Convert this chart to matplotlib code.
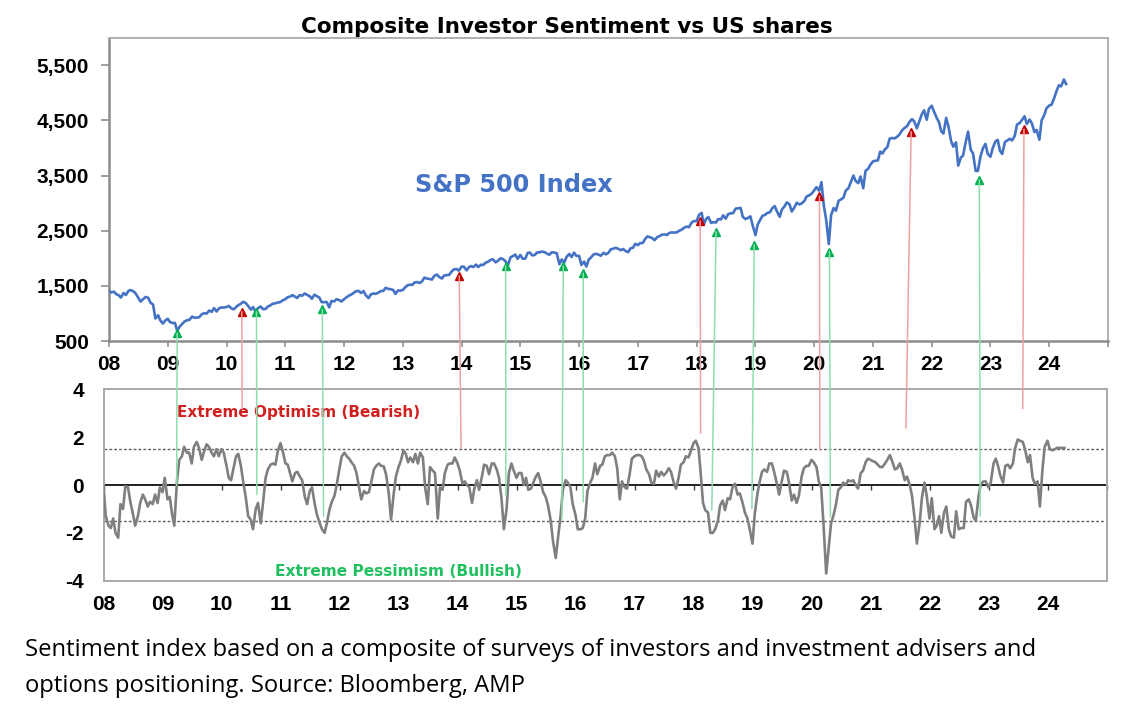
import numpy as np
import pandas as pd
import matplotlib
matplotlib.use("Agg")
import matplotlib.pyplot as plt
from matplotlib.patches import ConnectionPatch

# ---------------- data (semi-monthly: 1st and 15th of each month) ----------------
sp500_by_year = {
    2008: [1411, 1380, 1395, 1349, 1331, 1288, 1370, 1334, 1409, 1424, 1400, 1360,
           1284, 1215, 1260, 1298, 1283, 1193, 1161, 908, 966, 873, 816, 869],
    2009: [903, 843, 826, 827, 680, 757, 811, 852, 877, 882, 942, 923,
           923, 932, 987, 1004, 998, 1052, 1029, 1096, 1036, 1093, 1108, 1107],
    2010: [1115, 1136, 1089, 1075, 1115, 1150, 1178, 1211, 1187, 1136, 1070, 1115,
           1027, 1096, 1125, 1079, 1080, 1125, 1146, 1176, 1184, 1197, 1206, 1236],
    2011: [1258, 1293, 1307, 1332, 1306, 1281, 1333, 1320, 1361, 1338, 1314, 1266,
           1340, 1316, 1286, 1204, 1204, 1209, 1110, 1225, 1218, 1257, 1244, 1216],
    2012: [1258, 1289, 1324, 1343, 1374, 1402, 1408, 1370, 1405, 1330, 1278, 1342,
           1362, 1356, 1375, 1405, 1407, 1465, 1444, 1440, 1427, 1353, 1416, 1413],
    2013: [1426, 1472, 1513, 1520, 1518, 1561, 1569, 1552, 1582, 1650, 1631, 1626,
           1614, 1680, 1706, 1661, 1633, 1688, 1695, 1698, 1762, 1798, 1806, 1775],
    2014: [1848, 1848, 1782, 1838, 1859, 1841, 1885, 1842, 1883, 1878, 1924, 1937,
           1973, 1981, 1925, 1955, 2003, 1985, 1946, 1862, 2018, 2039, 2067, 1990],
    2015: [2059, 1992, 1995, 2096, 2105, 2053, 2060, 2106, 2108, 2122, 2111, 2085,
           2064, 2108, 2104, 2092, 1890, 1978, 1923, 2023, 2079, 2023, 2102, 2043],
    2016: [2044, 1880, 1940, 1850, 1978, 2015, 2072, 2081, 2065, 2047, 2099, 2071,
           2099, 2161, 2174, 2190, 2171, 2147, 2168, 2133, 2111, 2180, 2191, 2262],
    2017: [2239, 2275, 2279, 2350, 2395, 2385, 2363, 2329, 2384, 2402, 2430, 2432,
           2423, 2459, 2470, 2465, 2472, 2500, 2519, 2553, 2575, 2565, 2648, 2675],
    2018: [2674, 2786, 2824, 2620, 2714, 2748, 2641, 2656, 2648, 2711, 2705, 2780,
           2718, 2798, 2816, 2819, 2902, 2905, 2914, 2750, 2712, 2730, 2760, 2600],
    2019: [2420, 2610, 2704, 2775, 2784, 2822, 2834, 2907, 2946, 2850, 2752, 2886,
           2942, 3014, 2980, 2848, 2926, 3007, 2977, 2995, 3038, 3120, 3141, 3168],
    2020: [3231, 3289, 3226, 3380, 2954, 2710, 2260, 2783, 2912, 2863, 3044, 3066,
           3100, 3226, 3271, 3373, 3500, 3401, 3363, 3483, 3270, 3585, 3622, 3694],
    2021: [3756, 3768, 3774, 3934, 3901, 3969, 4020, 4170, 4181, 4173, 4204, 4246,
           4320, 4360, 4395, 4468, 4524, 4480, 4357, 4471, 4613, 4682, 4513, 4709],
    2022: [4766, 4662, 4546, 4471, 4306, 4262, 4545, 4392, 4132, 4023, 4101, 3680,
           3825, 3863, 4118, 4297, 3966, 3901, 3585, 3583, 3856, 3991, 4076, 3895],
    2023: [3840, 3999, 4119, 4147, 3951, 3892, 4109, 4137, 4167, 4136, 4221, 4426,
           4450, 4505, 4576, 4437, 4515, 4450, 4288, 4328, 4150, 4502, 4594, 4719],
    2024: [4770, 4784, 4906, 5029, 5137, 5117, 5243, 5160],
}

sentiment_by_year = {
    2008: [-0.05, -1.3, -1.7, -1.8, -1.4, -2.0, -2.2, -0.8, -1.0, -0.05, -0.1, -0.7,
           -1.2, -1.7, -1.3, -0.75, -0.4, -0.6, -0.9, -0.7, -0.8, -0.4, -0.75, -0.1],
    2009: [-0.3, 0.3, -0.6, -0.5, -1.2, -1.7, 0.2, 1.05, 1.2, 1.6, 1.35, 1.35,
           0.9, 1.6, 1.8, 1.55, 1.05, 1.4, 1.7, 1.6, 1.35, 1.2, 1.5, 1.2],
    2010: [1.5, 1.35, 0.8, 0.3, 0.2, 0.65, 1.2, 1.3, 0.8, 0.15, -0.55, -1.3,
           -1.45, -1.85, -1.0, -0.75, -1.6, -0.75, 0.3, 0.65, 0.85, 0.9, 0.85, 1.4],
    2011: [1.75, 1.4, 0.9, 0.85, 0.5, 0.15, 0.5, 0.55, 0.35, 0.2, -0.5, -0.8,
           -0.25, -0.1, -0.8, -1.25, -1.6, -1.85, -2.0, -1.6, -1.0, -0.7, -0.45, 0.0],
    2012: [0.7, 1.2, 1.35, 1.2, 1.1, 0.95, 0.8, 0.5, -0.1, -0.6, -0.25, -0.35,
           -0.3, 0.1, 0.65, 0.8, 0.9, 0.8, 0.78, 0.45, -0.35, -1.45, -0.4, 0.35],
    2013: [0.75, 1.0, 1.45, 1.3, 0.95, 1.15, 0.95, 1.3, 0.9, 1.35, 1.15, -0.1,
           -0.8, 0.75, 0.6, 0.5, -1.4, -0.1, -0.2, 0.5, 0.85, 0.9, 0.9, 1.15],
    2014: [0.9, 0.6, 0.05, 0.15, 0.0, -0.1, -0.75, -0.15, 0.2, -0.2, 0.35, 0.85,
           0.8, 0.45, 0.9, 0.9, 0.65, 0.3, -0.6, -1.85, -1.0, 0.5, 0.9, 0.6],
    2015: [0.3, 0.5, 0.5, 0.0, 0.3, -0.2, -0.15, 0.1, 0.35, 0.5, 0.1, -0.3,
           -0.5, -0.85, -1.5, -2.35, -3.05, -2.2, -1.3, -0.2, 0.2, 0.1, -0.1, -0.8],
    2016: [-1.25, -1.85, -1.85, -1.8, -1.4, -0.25, 0.1, 0.3, 0.9, 0.45, 0.8, 0.85,
           1.2, 1.25, 1.25, 1.35, 1.2, 0.7, -0.6, 0.15, -0.1, -0.15, 0.45, 1.1],
    2017: [1.2, 1.25, 1.25, 1.2, 1.0, 0.65, 0.45, 0.1, 0.05, 0.6, 0.35, 0.55,
           0.4, 0.5, 0.7, 0.55, 0.1, -0.15, 0.3, 0.85, 0.95, 1.2, 1.15, 1.4],
    2018: [1.75, 1.85, 1.55, 0.45, -0.75, -1.05, -1.15, -2.0, -2.0, -1.85, -1.5, -0.85,
           -0.65, -1.05, -0.55, -0.6, -0.05, 0.05, -0.4, -0.35, -0.75, -1.15, -1.4, -1.85],
    2019: [-2.45, -1.2, -0.35, 0.15, 0.55, 0.65, 0.55, 0.9, 0.9, 0.55, 0.05, -0.4,
           0.15, 0.6, 0.55, 0.1, -0.65, -0.4, -0.75, -0.45, 0.35, 0.7, 0.8, 0.8],
    2020: [1.05, 0.95, 0.75, 0.15, -0.1, -1.6, -3.7, -2.7, -1.6, -1.3, -0.8, -0.2,
           -0.1, 0.1, 0.0, 0.2, 0.15, 0.2, 0.0, -0.15, 0.5, 0.6, 0.95, 1.1],
    2021: [1.05, 1.0, 0.95, 0.85, 0.75, 0.75, 0.9, 1.05, 1.25, 1.0, 0.65, 0.7,
           0.9, 0.65, 0.2, 0.35, 0.0, -0.45, -1.4, -2.45, -1.6, -0.55, 0.1, -0.45],
    2022: [-1.4, -0.55, -1.85, -1.7, -1.3, -2.0, -1.15, -0.9, -1.85, -2.15, -2.2, -1.1,
           -1.85, -1.8, -1.8, -0.7, -0.6, -0.85, -1.35, -1.5, -0.45, 0.05, 0.15, 0.15],
    2023: [-0.1, 0.1, 0.9, 1.1, 0.8, 0.4, 0.1, 0.8, 0.85, 0.7, 0.9, 1.55,
           1.9, 1.85, 1.8, 1.5, 0.95, 1.25, 0.3, 0.05, 0.15, -0.9, 0.65, 1.6],
    2024: [1.85, 1.5, 1.45, 1.5, 1.55, 1.55, 1.55, 1.55],
}

# extreme-sentiment signals: (year in sentiment panel, sentiment level, year in S&P panel, S&P level)
optimism_signals = [
    (2010.35, 3.18, 2010.26, 1031),
    (2014.06, 1.53, 2013.96, 1678),
    (2018.12, 2.16, 2018.06, 2676),
    (2020.14, 1.46, 2020.09, 3125),
    (2021.60, 2.38, 2021.65, 4296),
    (2023.58, 3.19, 2023.57, 4337),
]
pessimism_signals = [
    (2009.24, 0.00, 2009.16, 639),
    (2010.60, -0.40, 2010.51, 1031),
    (2011.73, -1.30, 2011.63, 1074),
    (2014.82, -0.46, 2014.75, 1859),
    (2015.77, -1.40, 2015.73, 1859),
    (2016.13, -0.71, 2016.07, 1729),
    (2018.31, -1.06, 2018.33, 2485),
    (2018.99, -0.99, 2018.98, 2244),
    (2020.32, -1.34, 2020.26, 2120),
    (2022.86, -1.30, 2022.81, 3424),
]

extreme_levels = [1.5, -1.5]
year_ticks = list(range(2008, 2026))
year_labels = [f"{y % 100:02d}" for y in range(2008, 2025)] + [""]
sp_ticks = [500, 1500, 2500, 3500, 4500, 5500]

# ---------------- build series ----------------
sp500 = np.concatenate([sp500_by_year[y] for y in sorted(sp500_by_year)])
sentiment = np.concatenate([sentiment_by_year[y] for y in sorted(sentiment_by_year)])

def decimal_years(n):
    d = pd.date_range("2008-01-01", periods=n, freq="SMS")
    return d.year + (d.dayofyear - 1) / 365.25

t_sp = decimal_years(len(sp500))
t_se = decimal_years(len(sentiment))

# ---------------- figure ----------------
W, H = 1134, 719
fig = plt.figure(figsize=(W / 100, H / 100), dpi=100)
plt.rcParams["font.family"] = ["Liberation Sans", "DejaVu Sans"]
WIDE = ["DejaVu Sans"]
TICK_FS = 15

ax1 = fig.add_axes([109 / W, 1 - 341 / H, 999 / W, (341 - 37.7) / H])
ax2 = fig.add_axes([103.5 / W, 1 - 580.7 / H, 1003 / W, (580.7 - 389.3) / H])

blue = "#4472C4"
grey_line = "#7F7F7F"
red_dark = "#C00000"
green_dark = "#00B050"
red_light = "#F2A0A0"
green_light = "#90DDB0"

# --- top panel: S&P 500 ---
ax1.plot(t_sp, sp500, color=blue, lw=1.9, zorder=3)
ax1.set_xlim(2008, 2025)
ax1.set_ylim(500, 6000)
ax1.set_yticks(sp_ticks)
ax1.set_yticklabels([f"{v:,}" for v in sp_ticks], fontsize=TICK_FS, fontweight="bold")
ax1.set_xticks(year_ticks)
ax1.set_xticklabels(year_labels, fontsize=TICK_FS, fontweight="bold")
ax1.tick_params(axis="y", direction="out", length=5.5, width=1.2, color="#909090", pad=9)
ax1.tick_params(axis="x", direction="out", length=4, width=1.2, color="#909090", pad=6)
for s in ["left", "bottom"]:
    ax1.spines[s].set_color("#8C8C8C")
    ax1.spines[s].set_linewidth(1.8)
for s in ["top", "right"]:
    ax1.spines[s].set_color("#B0B0B0")
    ax1.spines[s].set_linewidth(1.4)
ax1.text(2013.21, 3326, "S&P 500 Index", color=blue, fontsize=17.3, fontweight="bold",
         family=WIDE, ha="left", va="center")

# --- bottom panel: sentiment ---
ax2.plot(t_se, sentiment, color=grey_line, lw=1.9, zorder=3)
for lvl in extreme_levels:
    ax2.axhline(lvl, color="#606060", lw=1.0, ls=(0, (2, 1.5)), zorder=2)
ax2.set_xlim(2008, 2025)
ax2.set_ylim(-4, 4)
ax2.set_yticks([-4, -2, 0, 2, 4])
ax2.set_yticklabels(["-4", "-2", "0", "2", "4"], fontsize=TICK_FS, fontweight="bold")
ax2.set_xticks(year_ticks)
ax2.set_xticklabels(year_labels, fontsize=TICK_FS, fontweight="bold")
ax2.tick_params(axis="y", length=0, pad=14)
ax2.tick_params(axis="x", length=0, pad=10)
for s in ax2.spines.values():
    s.set_color("#A8A8A8")
    s.set_linewidth(1.4)

zero_ax = ax2.secondary_xaxis(0.49999)
zero_ax.set_xticks(year_ticks)
zero_ax.set_xticklabels([""] * len(year_ticks))
zero_ax.tick_params(direction="out", length=3.5, width=1.0, color="#404040")
for s in zero_ax.spines.values():
    s.set_color("#202020")
    s.set_linewidth(1.4)

ax2.text(2009.25, 3.01, "Extreme Optimism (Bearish)", color="#D02020", fontsize=11,
         fontweight="bold", family=WIDE, ha="left", va="center")
ax2.text(2010.91, -3.62, "Extreme Pessimism (Bullish)", color="#20C060", fontsize=11.1,
         fontweight="bold", family=WIDE, ha="left", va="center")

# --- signal arrows linking the panels ---
for sigs, lc, hc in [(optimism_signals, red_light, red_dark),
                     (pessimism_signals, green_light, green_dark)]:
    for tb, vb, tt, st in sigs:
        con = ConnectionPatch(xyA=(tb, vb), coordsA=ax2.transData,
                              xyB=(tt, st), coordsB=ax1.transData,
                              color=lc, lw=1.1, zorder=4)
        fig.add_artist(con)
        ax1.plot([tt], [st], marker="^", ms=6, color=hc, mec=hc, zorder=6, clip_on=False)

# --- title and caption ---
fig.text(0.5, 1 - 27 / H, "Composite Investor Sentiment vs US shares",
         ha="center", va="center", fontsize=15.5, fontweight="bold", family=WIDE)
cap_font = ["Open Sans", "DejaVu Sans"]
fig.text(25 / W, 1 - 650 / H,
         "Sentiment index based on a composite of surveys of investors and investment advisers and",
         ha="left", va="center", fontsize=17.1, family=cap_font)
fig.text(25 / W, 1 - 686 / H, "options positioning. Source: Bloomberg, AMP",
         ha="left", va="center", fontsize=17.1, family=cap_font)

fig.savefig("out.png", dpi=100, facecolor="white")
